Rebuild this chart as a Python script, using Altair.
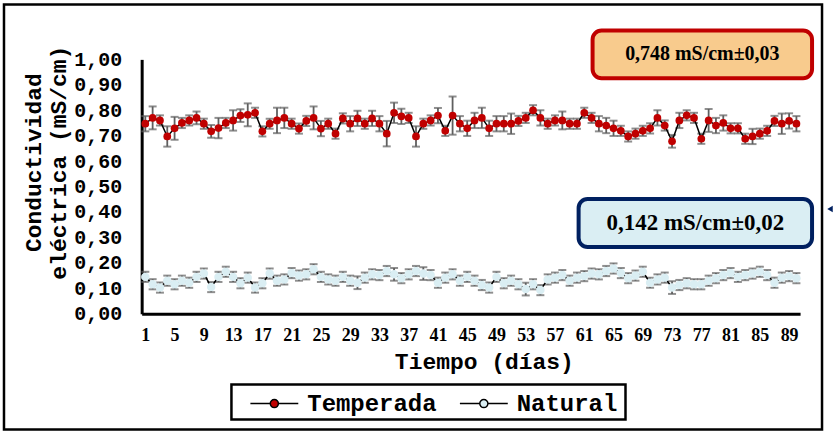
import altair as alt
import pandas as pd

days = list(range(1, 91))

temperada = [0.747, 0.770, 0.760, 0.697, 0.729, 0.750, 0.760, 0.770, 0.747, 0.717,
             0.730, 0.750, 0.760, 0.779, 0.782, 0.790, 0.717, 0.747, 0.760, 0.770,
             0.747, 0.728, 0.758, 0.770, 0.728, 0.747, 0.708, 0.768, 0.747, 0.768,
             0.747, 0.768, 0.747, 0.708, 0.790, 0.776, 0.770, 0.697, 0.747, 0.760,
             0.779, 0.719, 0.779, 0.747, 0.729, 0.760, 0.770, 0.729, 0.747, 0.747,
             0.747, 0.758, 0.770, 0.800, 0.770, 0.747, 0.760, 0.760, 0.747, 0.747,
             0.790, 0.770, 0.747, 0.740, 0.729, 0.719, 0.697, 0.708, 0.719, 0.729,
             0.770, 0.740, 0.678, 0.760, 0.780, 0.770, 0.688, 0.760, 0.740, 0.750,
             0.729, 0.729, 0.688, 0.697, 0.708, 0.719, 0.758, 0.747, 0.758, 0.747]

temperada_err = [0.030, 0.045, 0.020, 0.040, 0.045, 0.020, 0.020, 0.025, 0.020, 0.025,
                 0.040, 0.020, 0.040, 0.025, 0.045, 0.020, 0.020, 0.020, 0.050, 0.040,
                 0.020, 0.020, 0.020, 0.045, 0.030, 0.020, 0.020, 0.020, 0.030, 0.030,
                 0.020, 0.030, 0.030, 0.050, 0.040, 0.030, 0.020, 0.040, 0.020, 0.020,
                 0.030, 0.020, 0.075, 0.030, 0.030, 0.030, 0.040, 0.030, 0.030, 0.030,
                 0.040, 0.020, 0.020, 0.020, 0.030, 0.020, 0.020, 0.035, 0.020, 0.020,
                 0.020, 0.020, 0.030, 0.030, 0.030, 0.020, 0.020, 0.020, 0.020, 0.020,
                 0.030, 0.020, 0.025, 0.030, 0.020, 0.020, 0.020, 0.045, 0.030, 0.030,
                 0.020, 0.020, 0.020, 0.030, 0.020, 0.020, 0.020, 0.040, 0.030, 0.030]

natural = [0.145, 0.116, 0.103, 0.130, 0.116, 0.130, 0.122, 0.145, 0.158, 0.105,
           0.145, 0.165, 0.145, 0.120, 0.142, 0.103, 0.120, 0.158, 0.130, 0.135,
           0.160, 0.150, 0.155, 0.175, 0.145, 0.135, 0.130, 0.145, 0.130, 0.122,
           0.142, 0.155, 0.152, 0.168, 0.155, 0.140, 0.155, 0.168, 0.158, 0.152,
           0.122, 0.142, 0.155, 0.130, 0.145, 0.130, 0.113, 0.103, 0.145, 0.120,
           0.130, 0.116, 0.097, 0.116, 0.093, 0.135, 0.142, 0.152, 0.130, 0.142,
           0.148, 0.158, 0.155, 0.168, 0.178, 0.160, 0.140, 0.150, 0.165, 0.122,
           0.135, 0.142, 0.103, 0.113, 0.120, 0.116, 0.116, 0.130, 0.140, 0.152,
           0.160, 0.145, 0.152, 0.158, 0.165, 0.152, 0.122, 0.142, 0.148, 0.140]

natural_err = [0.020, 0.020, 0.020, 0.020, 0.020, 0.020, 0.020, 0.020, 0.020, 0.020,
               0.020, 0.020, 0.020, 0.020, 0.020, 0.020, 0.020, 0.020, 0.020, 0.020,
               0.020, 0.020, 0.020, 0.020, 0.020, 0.020, 0.020, 0.020, 0.020, 0.025,
               0.020, 0.020, 0.020, 0.020, 0.025, 0.020, 0.020, 0.020, 0.025, 0.020,
               0.020, 0.020, 0.020, 0.020, 0.020, 0.020, 0.020, 0.020, 0.020, 0.020,
               0.020, 0.020, 0.025, 0.020, 0.020, 0.020, 0.020, 0.020, 0.020, 0.020,
               0.020, 0.020, 0.020, 0.020, 0.020, 0.020, 0.020, 0.020, 0.020, 0.020,
               0.020, 0.020, 0.025, 0.020, 0.020, 0.020, 0.020, 0.020, 0.020, 0.020,
               0.020, 0.020, 0.020, 0.020, 0.020, 0.020, 0.020, 0.020, 0.020, 0.020]

series_names = ["Temperada", "Natural"]
series_colors = ["#C00000", "#DAEEF3"]
x_ticks = list(range(1, 90, 4))
y_ticks = [0.0, 0.1, 0.2, 0.3, 0.4, 0.5, 0.6, 0.7, 0.8, 0.9, 1.0]
notes = ["0,748 mS/cm±0,03", "0,142 mS/cm±0,02"]
x_title = "Tiempo (días)"
y_title = ["Conductividad", "eléctrica (mS/cm)"]

rows = []
for name, vals, errs in ((series_names[0], temperada, temperada_err),
                         (series_names[1], natural, natural_err)):
    for d, v, e in zip(days, vals, errs):
        rows.append({"dia": d, "serie": name, "valor": v, "lo": v - e, "hi": v + e})
df = pd.DataFrame(rows)
one = pd.DataFrame({"k": [0]})

MONO = "Liberation Mono"
SERIF = "Liberation Serif"

xs = alt.Scale(domain=[0.5, 90.5], nice=False, zero=False)
ys = alt.Scale(domain=[0, 1], nice=False)
x_enc = alt.X("dia:Q", scale=xs, title=x_title,
              axis=alt.Axis(values=x_ticks, titleX=343))
def y_enc(field):
    return alt.Y(field, scale=ys, title=y_title,
                 axis=alt.Axis(values=y_ticks, titleY=103,
                               labelExpr="replace(format(datum.value, '.2f'), '.', ',')"))

base = alt.Chart(df)

frame = alt.Chart(one).mark_rect(fillOpacity=0, stroke="black", strokeWidth=2.5).encode(
    x=alt.value(-138), x2=alt.value(682), y=alt.value(-55), y2=alt.value(371))
legend_box = alt.Chart(one).mark_rect(fillOpacity=0, stroke="black", strokeWidth=2.5).encode(
    x=alt.value(90), x2=alt.value(485), y=alt.value(326), y2=alt.value(361))

err_col = "#5f5f5f"
rules = base.mark_rule(color=err_col, strokeWidth=1.8).encode(
    x=x_enc, y=y_enc("lo:Q"), y2="hi:Q")
caps_lo = base.mark_tick(color=err_col, thickness=2, size=8, orient="horizontal").encode(
    x=x_enc, y=y_enc("lo:Q"))
caps_hi = base.mark_tick(color=err_col, thickness=2, size=8, orient="horizontal").encode(
    x=x_enc, y=y_enc("hi:Q"))

lines = base.mark_line(color="black", strokeWidth=1.5).encode(
    x=x_enc, y=y_enc("valor:Q"), detail="serie:N")

legend_symbol = ("M-1,0H-0.17 M0.17,0H1 "
                 "M-0.17,0A0.17,0.17 0 1,1 0.17,0A0.17,0.17 0 1,1 -0.17,0Z")

color_enc = alt.Color("serie:N", scale=alt.Scale(domain=series_names, range=series_colors),
                      legend=alt.Legend(orient="none", legendX=108, legendY=320,
                                        direction="horizontal", title=None))

points_t = base.transform_filter(alt.datum.serie == series_names[0]).mark_circle(
    opacity=1, size=60).encode(x=x_enc, y=y_enc("valor:Q"), color=color_enc)
points_n = base.transform_filter(alt.datum.serie == series_names[1]).mark_circle(
    opacity=1, size=72).encode(x=x_enc, y=y_enc("valor:Q"), color=color_enc)

box1 = alt.Chart(one).mark_rect(fill="#F8CB8D", stroke="#C00000", strokeWidth=4, cornerRadius=9).encode(
    x=alt.value(452), x2=alt.value(672), y=alt.value(-29), y2=alt.value(19))
txt1 = alt.Chart(one).mark_text(text=notes[0], font=SERIF, fontWeight="bold", fontSize=20,
                                color="black", baseline="middle", align="center").encode(
    x=alt.value(562), y=alt.value(-5))
box2 = alt.Chart(one).mark_rect(fill="#DAEEF3", stroke="#002060", strokeWidth=4, cornerRadius=9).encode(
    x=alt.value(438), x2=alt.value(672), y=alt.value(140), y2=alt.value(188))
txt2 = alt.Chart(one).mark_text(text=notes[1], font=SERIF, fontWeight="bold", fontSize=23,
                                color="black", baseline="middle", align="center").encode(
    x=alt.value(555), y=alt.value(164))
arrow = alt.Chart(one).mark_point(shape="triangle-left", filled=True, color="#002060",
                                  size=40, opacity=1).encode(
    x=alt.value(690), y=alt.value(150))

chart = alt.layer(frame, legend_box, rules, caps_lo, caps_hi, lines, points_n, points_t,
                  box1, txt1, box2, txt2, arrow).properties(
    width=660, height=255,
    padding={"left": 2, "top": 2, "right": 0, "bottom": 0},
    background="white",
).configure_view(strokeWidth=0).configure_axis(
    grid=False, ticks=False, domainColor="black", domainWidth=3,
    labelColor="black", titleColor="black",
    labelOverlap=False, labelFlush=False, labelBound=False,
).configure_axisX(
    labelFont=SERIF, labelFontWeight="bold", labelFontSize=18, labelPadding=13,
    titleFont=MONO, titleFontWeight="bold", titleFontSize=23, titlePadding=6,
).configure_axisY(
    labelFont=MONO, labelFontWeight="bold", labelFontSize=20, labelPadding=20,
    titleFont=MONO, titleFontWeight="bold", titleFontSize=23, titlePadding=3,
    titleLineHeight=25,
).configure_legend(
    strokeColor="transparent", padding=0, cornerRadius=0,
    labelFont=MONO, labelFontWeight="bold", labelFontSize=24, labelColor="black",
    labelOffset=8, columnPadding=20,
    symbolType=legend_symbol, symbolSize=2304, symbolStrokeColor="black",
    symbolStrokeWidth=1.5, symbolOpacity=1,
)

chart.save("out.html", embed_options={"renderer": "svg", "actions": False})
